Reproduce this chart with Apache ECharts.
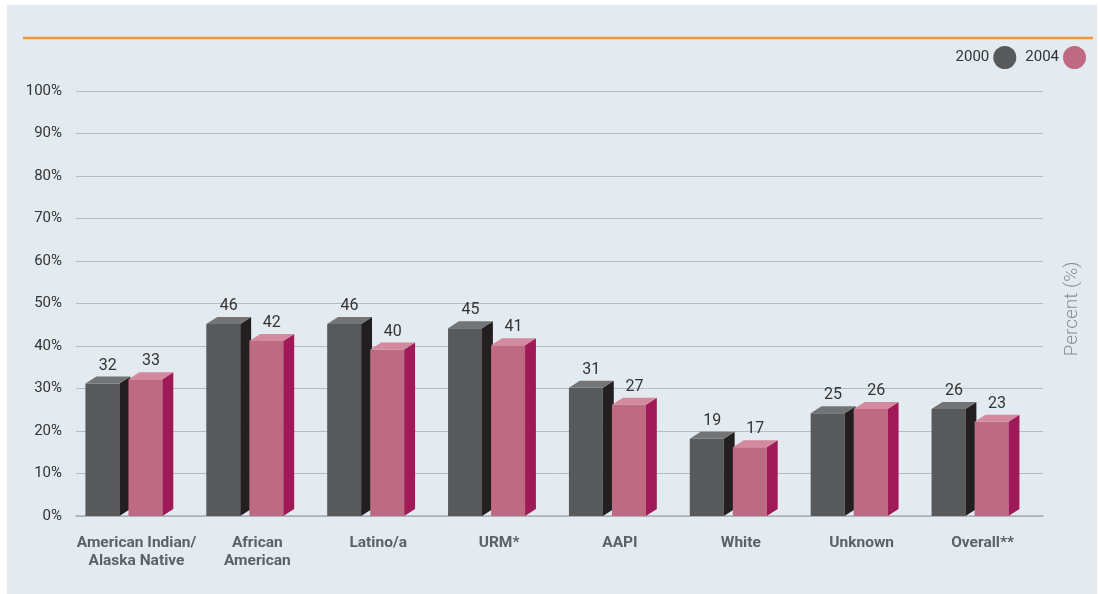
<!DOCTYPE html>
<html>
<head>
<meta charset="utf-8">
<script src="https://cdn.jsdelivr.net/npm/echarts@6/dist/echarts.min.js"></script>
<style>
  html, body { margin: 0; padding: 0; background: #ffffff; }
  #chart { width: 1099px; height: 594px; }
</style>
</head>
<body>
<div id="chart"></div>
<script>
// Groups shown along the x axis
const categories = [
  'American Indian/\nAlaska Native',
  'African\nAmerican',
  'Latino/a',
  'URM*',
  'AAPI',
  'White',
  'Unknown',
  'Overall**'
];
// Percent values per year
const values2000 = [32, 46, 46, 45, 31, 19, 25, 26];
const values2004 = [33, 42, 40, 41, 27, 17, 26, 23];
const yearNames = ['2000', '2004'];

// Face colours for the extruded bars: front, side, top
const palettes = [
  { front: '#58595b', side: '#231f20', top: '#737476' },
  { front: '#bf6a83', side: '#a01a58', top: '#d3899e' }
];

const FONT = 'Roboto, "Liberation Sans", sans-serif';

function makeRender(seriesIdx) {
  const pal = palettes[seriesIdx];
  return function (params, api) {
    const idx = api.value(0);
    const val = api.value(1);
    const base = api.coord([idx, 0]);
    const top = api.coord([idx, val]);
    const bw = api.size([1, 0])[0];
    const cx = base[0];
    const frontW = bw * 0.281;
    const dx = bw * 0.09;
    const dy = 7;
    const left = seriesIdx === 0 ? cx - bw * 0.422 : cx - bw * 0.066;
    const right = left + frontW;
    const y0 = base[1];
    const fTop = top[1] + dy / 2;
    const bTop = top[1] - dy / 2;
    return {
      type: 'group',
      children: [
        {
          type: 'rect',
          shape: { x: left, y: fTop, width: frontW, height: y0 - fTop },
          style: { fill: pal.front }
        },
        {
          type: 'polygon',
          shape: { points: [[right, fTop], [right + dx, bTop], [right + dx, y0 - dy], [right, y0]] },
          style: { fill: pal.side }
        },
        {
          type: 'polygon',
          shape: { points: [[left, fTop], [left + dx, bTop], [right + dx, bTop], [right, fTop]] },
          style: { fill: pal.top }
        },
        {
          type: 'text',
          style: {
            text: String(val),
            x: left + (frontW + dx) / 2,
            y: bTop - 3,
            align: 'center',
            verticalAlign: 'bottom',
            fill: '#333333',
            font: '16px ' + FONT
          }
        }
      ]
    };
  };
}

const chart = echarts.init(document.getElementById('chart'));
chart.setOption({
  backgroundColor: '#ffffff',
  animation: false,
  graphic: [
    {
      type: 'rect', z: -10,
      shape: { x: 7, y: 5, width: 1090, height: 589 },
      style: { fill: '#e3ebf1' }
    },
    {
      type: 'line', z: -5,
      shape: { x1: 23, y1: 38, x2: 1093, y2: 38 },
      style: { stroke: '#f39a33', lineWidth: 2.5 }
    },
    {
      type: 'text',
      x: 1072, y: 309,
      rotation: Math.PI / 2,
      style: {
        text: 'Percent (%)',
        align: 'center',
        verticalAlign: 'middle',
        fill: '#8a8f94',
        font: '300 19px ' + FONT
      }
    }
  ],
  legend: {
    right: 8,
    top: 41,
    align: 'right',
    icon: 'circle',
    itemWidth: 23,
    itemHeight: 23,
    itemGap: 9,
    textStyle: { fontSize: 15, color: '#333333', fontFamily: FONT, padding: [0, -1, 0, 0] },
    data: yearNames
  },
  grid: { left: 76, right: 56, top: 91, bottom: 78 },
  xAxis: {
    type: 'category',
    data: categories,
    axisLine: { show: true, lineStyle: { color: '#a9b0b7', width: 1.5 } },
    axisTick: { show: false },
    axisLabel: {
      interval: 0,
      margin: 18,
      fontSize: 15.5,
      fontWeight: 'bold',
      color: '#5b6167',
      fontFamily: FONT,
      lineHeight: 18
    }
  },
  yAxis: {
    type: 'value',
    min: 0,
    max: 100,
    interval: 10,
    axisLine: { show: false },
    axisTick: { show: false },
    axisLabel: {
      formatter: '{value}%',
      fontSize: 15,
      color: '#333333',
      fontFamily: FONT,
      margin: 14
    },
    splitLine: { lineStyle: { color: '#b4bbc2', width: 1 } }
  },
  series: [
    {
      name: yearNames[0],
      type: 'custom',
      renderItem: makeRender(0),
      itemStyle: { color: palettes[0].front },
      encode: { x: 0, y: 1 },
      data: values2000.map((v, i) => [i, v]),
      z: 2
    },
    {
      name: yearNames[1],
      type: 'custom',
      renderItem: makeRender(1),
      itemStyle: { color: palettes[1].front },
      encode: { x: 0, y: 1 },
      data: values2004.map((v, i) => [i, v]),
      z: 3
    }
  ]
});
</script>
</body>
</html>
